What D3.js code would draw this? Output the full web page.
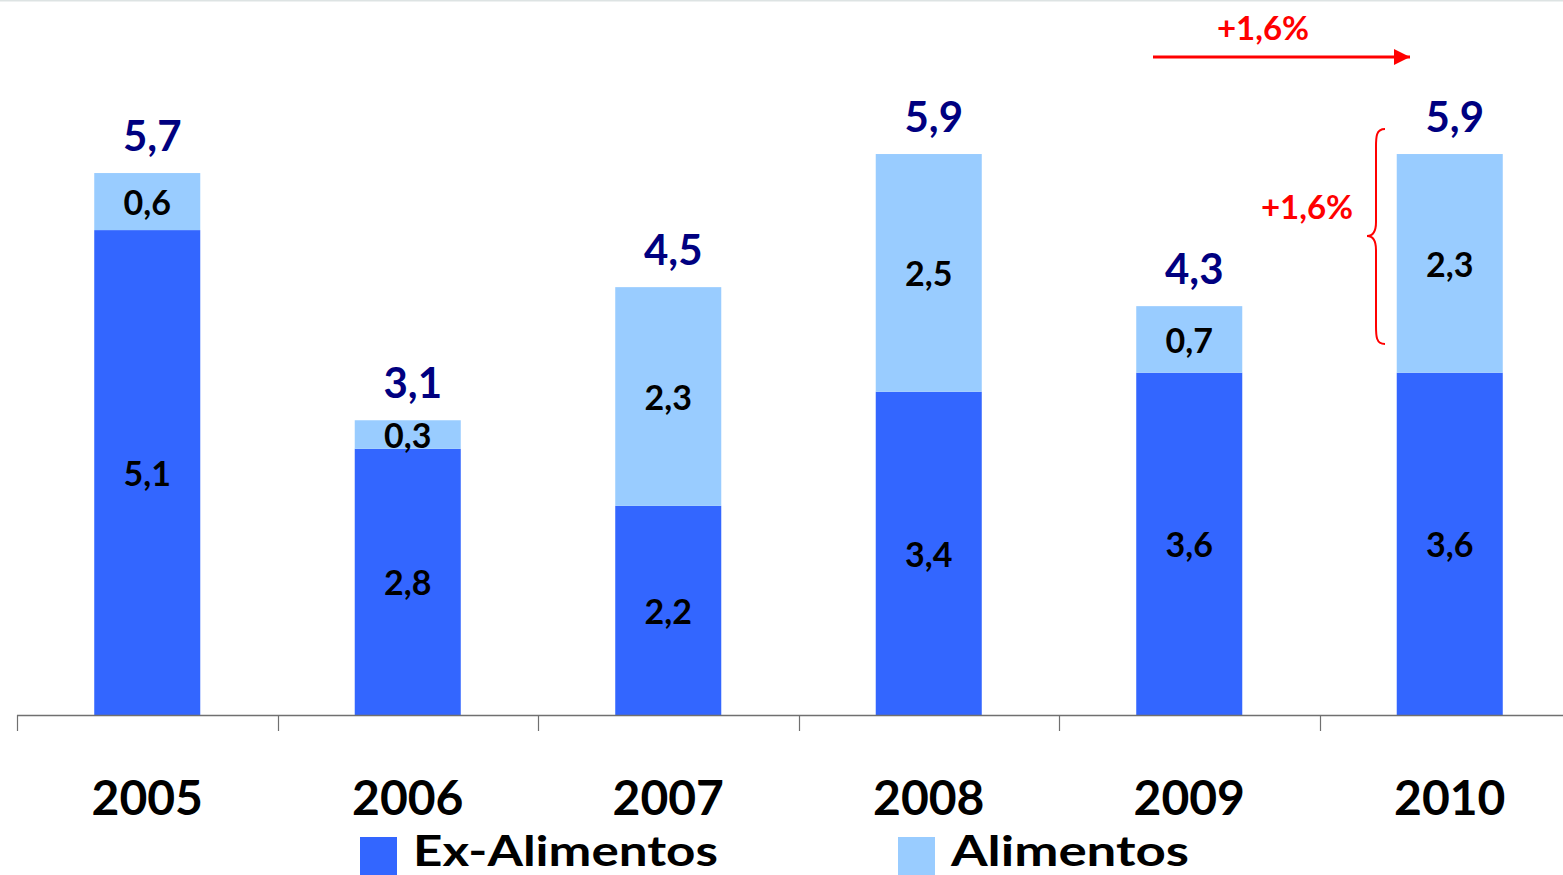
<!DOCTYPE html>
<html>
<head>
<meta charset="utf-8">
<script src="https://cdn.jsdelivr.net/npm/d3@7"></script>
<style>
  html, body { margin: 0; padding: 0; background: #fff; }
  svg { display: block; font-family: Lato, "Open Sans", sans-serif; }
</style>
</head>
<body>
<svg id="chart" width="1563" height="875"></svg>
<script>
// Data
const years = ["2005", "2006", "2007", "2008", "2009", "2010"];
const exAlimentos = [5.1, 2.8, 2.2, 3.4, 3.6, 3.6];
const alimentos = [0.6, 0.3, 2.3, 2.5, 0.7, 2.3];
const totals = [5.7, 3.1, 4.5, 5.9, 4.3, 5.9];
const seriesNames = ["Ex-Alimentos", "Alimentos"];
const growthLabel = "+1,6%";

const colors = { ex: "#3366FF", al: "#99CCFF", total: "#000080", red: "#FF0000" };
const fmt = v => d3.format(".1f")(v).replace(".", ",");

const svg = d3.select("#chart");
const W = 1563, H = 875;

// thin light rule along the top edge
svg.append("line").attr("x1", 0).attr("x2", W).attr("y1", 0.5).attr("y2", 0.5)
  .attr("stroke", "#dde3e3").attr("stroke-width", 2);

const x = d3.scaleBand().domain(years).range([17, 17 + 260.5 * 6]).paddingInner(0.593).paddingOuter(0.2965);
const y = d3.scaleLinear().domain([0, 7.52]).range([715, 0]);

const rows = years.map((yr, i) => ({ year: yr, ex: exAlimentos[i], al: alimentos[i], total: totals[i] }));
const stacked = d3.stack().keys(["ex", "al"])(rows);
const fillFor = { ex: colors.ex, al: colors.al };

// stacked bars
const layers = svg.append("g").selectAll("g").data(stacked).join("g").attr("fill", d => fillFor[d.key]);
layers.selectAll("rect").data(d => d).join("rect")
  .attr("x", d => x(d.data.year))
  .attr("y", d => y(d[1]))
  .attr("width", x.bandwidth())
  .attr("height", d => y(d[0]) - y(d[1]));

// segment labels
layers.each(function(layer) {
  d3.select(this).selectAll("text").data(layer).join("text")
    .attr("x", d => x(d.data.year) + x.bandwidth() / 2)
    .attr("y", d => (y(d[0]) + y(d[1])) / 2)
    .attr("dy", "0.4em")
    .attr("text-anchor", "middle")
    .attr("fill", "#000")
    .attr("font-weight", 700)
    .attr("font-size", 34)
    .text(d => fmt(d[1] - d[0]));
});

// totals above bars
svg.append("g").selectAll("text").data(rows).join("text")
  .attr("x", d => x(d.year) + x.bandwidth() / 2 + 5)
  .attr("y", d => y(d.total) - 22)
  .attr("text-anchor", "middle")
  .attr("fill", colors.total)
  .attr("font-weight", 700)
  .attr("font-size", 42)
  .text(d => fmt(d.total));

// category axis with tick marks between categories
const axisG = svg.append("g");
axisG.append("line").attr("x1", 17).attr("x2", W).attr("y1", 715.5).attr("y2", 715.5)
  .attr("stroke", "#707070").attr("stroke-width", 1.5);
const step = x.step();
const tickXs = d3.range(years.length).map(i => x(years[i]) - x.paddingOuter() * step);
axisG.selectAll("line.tick").data(tickXs).join("line").attr("class", "tick")
  .attr("x1", d => Math.round(d) + 0.5).attr("x2", d => Math.round(d) + 0.5)
  .attr("y1", 715).attr("y2", 731)
  .attr("stroke", "#707070").attr("stroke-width", 1.2);
axisG.selectAll("text").data(years).join("text")
  .attr("x", d => x(d) + x.bandwidth() / 2)
  .attr("y", 815)
  .attr("text-anchor", "middle")
  .attr("font-weight", 700)
  .attr("font-size", 48)
  .attr("fill", "#000")
  .text(d => d);

// legend
const legend = svg.append("g");
const legendItems = [
  { name: seriesNames[0], color: colors.ex, x: 360, len: 305 },
  { name: seriesNames[1], color: colors.al, x: 898, len: 238 }
];
legendItems.forEach(it => {
  legend.append("rect").attr("x", it.x).attr("y", 837).attr("width", 37).attr("height", 38).attr("fill", it.color);
  legend.append("text").attr("x", it.x + 53).attr("y", 866)
    .attr("font-weight", 700).attr("font-size", 42).attr("fill", "#000")
    .attr("textLength", it.len).attr("lengthAdjust", "spacingAndGlyphs")
    .text(it.name);
});

// growth annotations
const ann = svg.append("g");
ann.append("defs").append("marker")
  .attr("id", "arrowHead").attr("viewBox", "0 0 10 10").attr("refX", 10).attr("refY", 5)
  .attr("markerWidth", 5.5).attr("markerHeight", 5.5).attr("markerUnits", "strokeWidth").attr("orient", "auto")
  .append("path").attr("d", "M0,0 L10,5 L0,10 Z").attr("fill", colors.red);
ann.append("line").attr("x1", 1153).attr("x2", 1410).attr("y1", 57).attr("y2", 57)
  .attr("stroke", colors.red).attr("stroke-width", 3).attr("marker-end", "url(#arrowHead)");
ann.append("text").attr("x", 1263).attr("y", 40).attr("text-anchor", "middle")
  .attr("font-weight", 700).attr("font-size", 33).attr("fill", colors.red).text(growthLabel);

// curly brace beside the 2010 bar
const bx = 1376, bTop = 129, bBottom = 344, bMid = 236;
const brace = `M${bx + 9},${bTop} C${bx},${bTop} ${bx},${bTop + 8} ${bx},${bTop + 18} L${bx},${bMid - 14} C${bx},${bMid - 4} ${bx - 3},${bMid} ${bx - 9},${bMid} C${bx - 3},${bMid} ${bx},${bMid + 4} ${bx},${bMid + 14} L${bx},${bBottom - 18} C${bx},${bBottom - 8} ${bx},${bBottom} ${bx + 9},${bBottom}`;
ann.append("path").attr("d", brace).attr("fill", "none").attr("stroke", colors.red).attr("stroke-width", 2);
ann.append("text").attr("x", 1307).attr("y", 219).attr("text-anchor", "middle")
  .attr("font-weight", 700).attr("font-size", 33).attr("fill", colors.red).text(growthLabel);
</script>
</body>
</html>
